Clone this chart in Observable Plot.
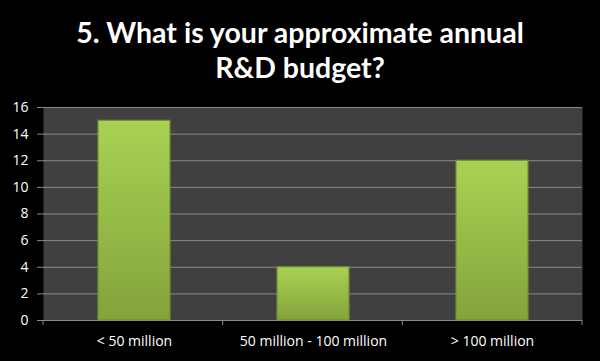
<!DOCTYPE html>
<html>
<head>
<meta charset="utf-8">
<script src="https://cdn.jsdelivr.net/npm/d3@7"></script>
<script src="https://cdn.jsdelivr.net/npm/@observablehq/plot@0.6"></script>
<style>
  html, body { margin: 0; padding: 0; background: #000; }
  #wrap { width: 600px; height: 361px; background: #000; overflow: hidden; }
  #title { height: 90px; margin: 0; color: #fff; font-family: Lato, "Open Sans", sans-serif; font-weight: 700;
           font-size: 28.5px; line-height: 35px; text-align: center; padding-top: 15px; box-sizing: border-box; }
  svg { display: block; }
</style>
</head>
<body>
<div id="wrap">
  <div id="title">5. What is your approximate annual<br>R&amp;D budget?</div>
  <div id="chart"></div>
</div>
<script>
const categories = ["< 50 million", "50 million - 100 million", "> 100 million"];
const values = [15, 4, 12];
const yTicks = [0, 2, 4, 6, 8, 10, 12, 14, 16];

const data = categories.map((c, i) => ({category: c, value: values[i]}));

const chart = Plot.plot({
  width: 600,
  height: 271,
  marginTop: 17,
  marginBottom: 41,
  marginLeft: 43,
  marginRight: 18,
  style: {background: "#000", color: "#fff", fontFamily: "'Open Sans', sans-serif", fontSize: "13px"},
  x: {domain: categories, paddingInner: 0.6, paddingOuter: 0.3, label: null},
  y: {domain: [0, 16], ticks: yTicks, label: null},
  marks: [
    Plot.frame({fill: "#404040", stroke: null}),
    Plot.gridY(yTicks, {stroke: "#8a8a8a", strokeOpacity: 1, strokeWidth: 1}),
    Plot.axisY(yTicks, {tickSize: 6, tickPadding: 9, stroke: "#8a8a8a", fill: "#fff", fontSize: 14, label: null}),
    Plot.axisX({tickSize: 0, tickPadding: 16, fill: "#fff", fontSize: 14, label: null}),
    Plot.barY(data, {x: "category", y: "value", fill: "url(#barGrad)", stroke: "#728e36", strokeWidth: 1.2}),
    Plot.ruleX([0], {y1: 0, y2: 16, stroke: "#8a8a8a"}),
    Plot.ruleY([0], {stroke: "#8a8a8a"})
  ]
});

// gradient definition
const svg = d3.select(chart);
const defs = svg.insert("defs", ":first-child");
const g = defs.append("linearGradient").attr("id", "barGrad").attr("x1", 0).attr("y1", 0).attr("x2", 0).attr("y2", 1);
g.append("stop").attr("offset", "0%").attr("stop-color", "#a9d253");
g.append("stop").attr("offset", "100%").attr("stop-color", "#84a33b");

// category boundary ticks below the axis, from the x scale range
const ys = chart.scale("y");
const y0 = ys.apply(0);
const [x0, x1] = chart.scale("x").range;
const tg = svg.append("g").attr("stroke", "#8a8a8a");
for (let i = 0; i <= categories.length; i++) {
  const b = x0 + (x1 - x0) * i / categories.length;
  tg.append("line").attr("x1", b).attr("x2", b).attr("y1", y0).attr("y2", y0 + 5);
}

document.getElementById("chart").appendChild(chart);
</script>
</body>
</html>
